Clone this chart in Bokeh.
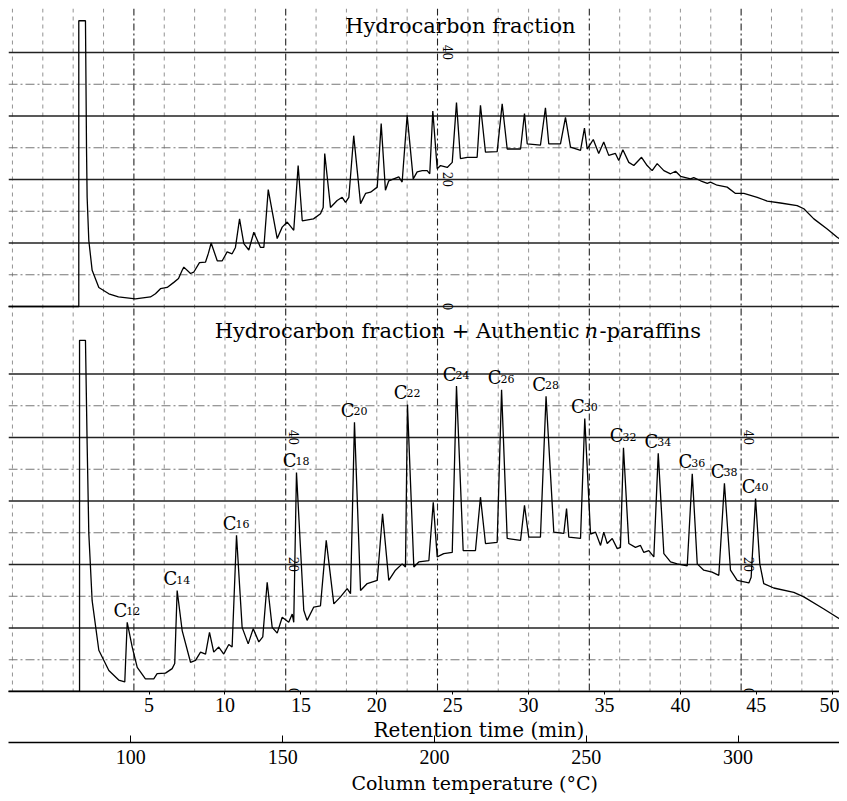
import math
from bokeh.plotting import figure
from bokeh.models import Range1d, LinearAxis, Title, Span, FixedTicker, Label
from bokeh.core.properties import value
from bokeh.embed import file_html
from bokeh.resources import INLINE

SERIF = "DejaVu Serif"

# ---------------- data ----------------
# upper trace: Hydrocarbon fraction (retention time in min, recorder signal 0-40 scale)
top_rt = [-4.3, 0.37, 0.37, 0.81, 0.88, 0.92, 1.03, 1.25, 1.69, 2.35,
          2.98, 4.10, 5.09, 5.42, 5.75, 6.19, 6.63, 6.94, 7.18, 7.29,
          7.73, 7.94, 8.32, 8.72, 8.91, 9.09, 9.49, 9.82, 10.14, 10.47,
          10.69, 10.96, 11.24, 11.57, 11.90, 12.34, 12.56, 12.85, 13.44, 13.77,
          14.10, 14.53, 14.82, 15.09, 15.83, 16.29, 16.47, 16.57, 16.95, 17.39,
          17.72, 17.94, 18.16, 18.48, 18.93, 19.26, 19.59, 20.03, 20.29, 20.57,
          20.79, 21.12, 21.45, 21.67, 22.00, 22.40, 22.66, 22.99, 23.32, 23.49,
          23.69, 23.98, 24.20, 24.64, 24.97, 25.25, 25.51, 25.96, 26.61, 26.83,
          27.16, 27.93, 28.26, 28.59, 29.47, 29.73, 29.91, 30.78, 31.11, 31.33,
          32.10, 32.43, 32.76, 33.42, 33.68, 33.86, 34.08, 34.26, 34.62, 34.95,
          35.28, 35.72, 35.94, 36.21, 36.60, 36.93, 37.44, 37.81, 38.14, 38.47,
          38.91, 39.35, 39.68, 40.01, 40.67, 40.88, 41.33, 41.77, 41.98, 42.42,
          43.08, 43.63, 44.18, 45.06, 45.72, 46.59, 47.69, 48.13, 48.79, 49.67,
          50.33, 50.99]
top_sig = [0, 0, 45.0, 45.0, 24.6, 17.2, 10.4, 5.7, 3.0, 2.0,
           1.5, 1.2, 1.5, 2.0, 2.8, 3.0, 3.8, 4.4, 5.7, 6.2,
           5.2, 5.4, 6.9, 7.0, 8.4, 10.0, 7.2, 7.2, 8.6, 8.3,
           9.3, 13.8, 9.9, 8.9, 11.7, 9.3, 9.3, 18.4, 10.7, 12.5,
           13.3, 12.0, 22.2, 13.5, 13.8, 14.6, 15.6, 24.1, 15.6, 16.7,
           17.2, 16.4, 17.2, 26.9, 16.2, 17.8, 18.0, 18.8, 28.8, 18.3,
           19.8, 20.1, 20.4, 19.6, 30.1, 20.1, 21.2, 21.4, 21.4, 20.9,
           30.8, 21.7, 22.2, 21.9, 22.7, 32.1, 23.3, 23.5, 23.5, 31.7,
           24.3, 24.4, 31.9, 24.8, 24.8, 30.4, 25.6, 25.4, 31.3, 25.6,
           25.6, 29.8, 25.1, 24.6, 28.1, 24.8, 25.6, 26.3, 24.1, 25.9,
           23.8, 24.1, 23.0, 24.7, 22.7, 22.2, 23.5, 22.2, 21.4, 22.5,
           21.4, 20.9, 21.3, 20.5, 20.1, 20.3, 19.8, 19.4, 19.6, 19.1,
           18.8, 17.8, 17.8, 17.2, 16.6, 16.3, 15.9, 15.4, 13.8, 12.2,
           10.9, 9.9]

# lower trace: Hydrocarbon fraction + authentic n-paraffins
bot_rt = [-4.3, 0.42, 0.42, 0.81, 0.92, 1.03, 1.25, 1.69, 2.35, 3.00,
          3.40, 3.56, 3.89, 4.22, 4.76, 5.31, 5.53, 6.08, 6.52, 6.69,
          6.85, 7.18, 7.73, 8.06, 8.39, 8.72, 8.98, 9.26, 9.59, 9.92,
          10.25, 10.47, 10.76, 11.13, 11.53, 11.86, 12.23, 12.49, 12.78, 13.11,
          13.44, 13.77, 14.20, 14.43, 14.53, 14.71, 15.19, 15.41, 15.85, 16.29,
          16.67, 17.17, 17.61, 18.05, 18.27, 18.53, 18.93, 19.37, 20.03, 20.38,
          20.79, 21.23, 21.67, 21.89, 22.02, 22.44, 22.77, 23.43, 23.72, 23.98,
          24.41, 24.97, 25.25, 25.69, 26.50, 26.83, 27.16, 27.93, 28.22, 28.59,
          29.47, 29.73, 30.01, 30.78, 31.15, 31.66, 32.32, 32.50, 32.65, 33.42,
          33.70, 34.08, 34.41, 34.74, 34.95, 35.18, 35.51, 35.84, 36.05, 36.25,
          36.60, 37.04, 37.37, 37.59, 37.92, 38.25, 38.54, 38.91, 39.35, 39.79,
          40.45, 40.78, 41.11, 41.54, 42.09, 42.53, 42.90, 43.30, 43.74, 44.51,
          44.66, 44.95, 45.23, 45.49, 46.15, 47.47, 48.13, 49.45, 50.99]
bot_sig = [0, 0, 55.3, 55.3, 39.0, 24.9, 14.3, 6.5, 3.3, 1.8,
           1.5, 10.9, 7.0, 3.8, 2.0, 2.0, 2.8, 2.9, 3.6, 4.4,
           15.9, 9.6, 4.6, 4.9, 6.2, 5.9, 9.3, 6.2, 7.0, 5.9,
           7.4, 7.0, 24.6, 10.1, 7.5, 9.9, 7.8, 8.6, 17.2, 10.1,
           9.2, 11.7, 10.9, 12.2, 10.9, 34.5, 12.8, 11.2, 13.3, 13.5,
           23.8, 13.8, 14.9, 16.2, 15.4, 42.4, 15.9, 17.0, 17.5, 28.0,
           17.5, 19.1, 20.1, 19.6, 45.2, 19.6, 20.4, 20.6, 29.8, 21.2,
           21.7, 21.9, 48.1, 22.2, 22.2, 30.6, 23.3, 23.5, 47.5, 24.1,
           23.8, 29.3, 24.3, 24.3, 46.5, 25.1, 24.9, 28.8, 24.3, 24.1,
           43.0, 24.8, 25.1, 23.0, 25.1, 23.3, 24.1, 22.5, 22.7, 38.4,
           23.3, 22.7, 23.0, 21.9, 22.2, 21.2, 37.5, 21.7, 20.4, 20.1,
           19.8, 34.3, 20.1, 19.1, 18.8, 18.3, 32.8, 19.1, 17.5, 17.1,
           18.0, 30.4, 20.1, 17.0, 16.3, 15.6, 14.9, 13.0, 10.7]

# n-paraffin peaks (carbon number, retention time, peak height)
paraffin_c = [12, 14, 16, 18, 20, 22, 24, 26, 28, 30, 32, 34, 36, 38, 40]
paraffin_rt = [3.56, 6.85, 10.76, 14.71, 18.53, 22.02, 25.25, 28.22, 31.15,
               33.70, 36.25, 38.54, 40.78, 42.90, 44.95]
paraffin_h = [10.9, 15.9, 24.6, 34.5, 42.4, 45.2, 48.1, 47.5, 46.5,
              43.0, 38.4, 37.5, 34.3, 32.8, 30.4]

# axes
rt_ticks = [5, 10, 15, 20, 25, 30, 35, 40, 45, 50]
temp_ticks = [100, 150, 200, 250, 300]
temp_at_zero = 81.0      # column temperature (deg C) at t = 0
temp_rate = 5.0          # deg C per min

# recorder chart paper
paper_minutes = list(range(-4, 52, 2))
paper_heavy_minutes = [4, 14, 24, 34, 44]
top_levels = list(range(0, 45, 5))
bot_levels = list(range(0, 55, 5))
scale_values = [0, 20, 40]
top_scale_rt = [24.66]
bot_scale_rt = [14.53, 44.50]

# ---------------- figure ----------------
x_lo, x_hi = -4.26, 50.48
p = figure(frame_width=831, frame_height=683, output_backend="svg",
           toolbar_location=None, x_range=Range1d(x_lo, x_hi),
           y_range=Range1d(0, 107.56), x_axis_location=None,
           y_axis_location=None, min_border=0, min_border_left=8,
           min_border_top=8, outline_line_color=None,
           background_fill_color="white", border_fill_color="white")
p.extra_x_ranges = {"temp": Range1d(temp_at_zero + temp_rate * x_lo,
                                    temp_at_zero + temp_rate * x_hi)}
p.extra_y_ranges = {"top": Range1d(-60.63, 46.93)}
p.grid.visible = False

# chart paper grid
for m in paper_minutes:
    heavy = m in paper_heavy_minutes
    p.add_layout(Span(location=m, dimension="height", level="underlay",
                      line_color="#222222" if heavy else "#777777",
                      line_width=1.1 if heavy else 0.8,
                      line_dash="7 3 2 3" if heavy else "4 4"))
for lv in top_levels:
    major = lv % 10 == 0
    p.add_layout(Span(location=lv, dimension="width", y_range_name="top",
                      level="underlay",
                      line_color="#222222" if major else "#666666",
                      line_width=1.3 if major else 0.9,
                      line_dash="solid" if major else "9 3 2 3"))
for lv in bot_levels:
    major = lv % 10 == 0
    p.add_layout(Span(location=lv, dimension="width", level="underlay",
                      line_color="#222222" if major else "#666666",
                      line_width=1.3 if major else 0.9,
                      line_dash="solid" if major else "9 3 2 3"))

# traces
p.line(top_rt, top_sig, y_range_name="top", line_color="black", line_width=1.3)
p.line(bot_rt, bot_sig, line_color="black", line_width=1.3)

# peak labels C12 ... C40
p.text(x=paraffin_rt, y=paraffin_h, text=["C"] * len(paraffin_c),
       text_align="right", text_baseline="alphabetic", x_offset=0, y_offset=-12,
       text_font=value(SERIF), text_font_size="18px", text_color="black")
p.text(x=paraffin_rt, y=paraffin_h, text=[str(c) for c in paraffin_c],
       text_align="left", text_baseline="alphabetic", x_offset=-1, y_offset=-11,
       text_font=value(SERIF), text_font_size="11px", text_color="black")

# recorder scale markers
p.text(x=top_scale_rt * len(scale_values), y=scale_values,
       text=[str(v) for v in scale_values], y_range_name="top",
       angle=-math.pi / 2, text_align="center", text_baseline="middle",
       text_font=value(SERIF), text_font_size="12px", text_color="black")
for rt in bot_scale_rt:
    p.text(x=[rt] * len(scale_values), y=scale_values,
           text=[str(v) for v in scale_values],
           angle=-math.pi / 2, text_align="center", text_baseline="middle",
           text_font=value(SERIF), text_font_size="12px", text_color="black")

# panel titles
p.add_layout(Label(x=25.51, y=44.25, y_range_name="top", text="Hydrocarbon fraction",
                   text_align="center", text_baseline="alphabetic",
                   text_font=SERIF, text_font_size="21px", text_color="black"))
p.add_layout(Label(x=33.35, y=56.85, text="Hydrocarbon fraction + Authentic",
                   text_align="right", text_baseline="alphabetic",
                   text_font=SERIF, text_font_size="21px", text_color="black"))
p.add_layout(Label(x=33.35, y=56.85, x_offset=5, text="n", text_font_style="italic",
                   text_align="left", text_baseline="alphabetic",
                   text_font=SERIF, text_font_size="21px", text_color="black"))
p.add_layout(Label(x=33.35, y=56.85, x_offset=20, text="-paraffins",
                   text_align="left", text_baseline="alphabetic",
                   text_font=SERIF, text_font_size="21px", text_color="black"))

# axes
xaxis = LinearAxis(ticker=FixedTicker(ticks=rt_ticks, minor_ticks=[]))
xaxis.axis_line_color = "black"
xaxis.axis_line_width = 1.3
xaxis.major_tick_in = 0
xaxis.major_tick_out = 3
xaxis.minor_tick_in = 0
xaxis.minor_tick_out = 0
xaxis.major_label_standoff = 3
xaxis.major_label_text_font = "Liberation Serif"
xaxis.major_label_text_font_size = "20px"
xaxis.major_label_text_color = "black"
p.add_layout(xaxis, "below")

p.add_layout(Title(text="Retention time (min)", align="left", offset=365,
                   text_font=SERIF, text_font_size="20px", text_font_style="normal",
                   text_color="black", standoff=2), "below")

taxis = LinearAxis(x_range_name="temp",
                   ticker=FixedTicker(ticks=temp_ticks, minor_ticks=[]))
taxis.axis_line_color = "black"
taxis.axis_line_width = 1.3
taxis.major_tick_in = 7
taxis.major_tick_out = 0
taxis.minor_tick_in = 0
taxis.minor_tick_out = 0
taxis.major_label_standoff = 7
taxis.major_label_text_font = "Liberation Serif"
taxis.major_label_text_font_size = "20px"
taxis.major_label_text_color = "black"
p.add_layout(taxis, "below")

p.add_layout(Title(text="Column temperature (°C)", align="left", offset=343,
                   text_font=SERIF, text_font_size="19px", text_font_style="normal",
                   text_color="black", standoff=6), "below")

open("out.html", "w").write(file_html(p, INLINE))
